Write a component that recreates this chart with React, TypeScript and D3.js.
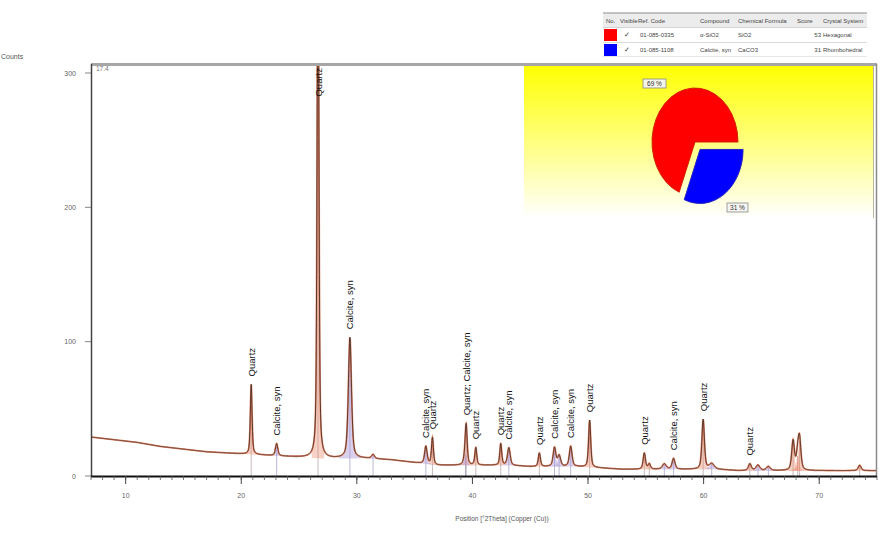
import React from 'react';
import * as d3 from 'd3';

const W = 892;
const H = 535;

// Background, counts at 2θ
const baseTheta = [7, 9, 11, 13, 15, 17, 19, 21, 23, 25, 27, 29, 31, 33, 35, 37, 39, 41, 43, 45, 47, 49, 51, 53, 55, 57, 59, 61, 63, 65, 67, 69, 71, 73, 75];
const baseCounts = [29, 27, 25, 22, 20, 18, 17, 16, 15, 14, 13, 13, 13, 12, 10, 8, 8, 8, 8, 7, 7, 7, 6, 5, 5, 5, 5, 5, 4, 4, 4, 4, 4, 4, 4];

// Quartz peaks: position (°2θ), height above background (counts), FWHM (°)
const quartzPos = [20.86, 26.64, 36.54, 39.46, 40.29, 42.45, 45.79, 50.14, 54.87, 55.3, 59.96, 64.0, 67.74, 68.14, 68.3, 73.5];
const quartzHeight = [52, 420, 20, 24, 13, 16, 10, 35, 12, 4, 37, 5, 22, 11, 22, 4];
const quartzWidth = [0.18, 0.18, 0.2, 0.2, 0.2, 0.2, 0.22, 0.22, 0.24, 0.24, 0.26, 0.3, 0.28, 0.28, 0.28, 0.3];

// Calcite peaks
const calcitePos = [23.06, 29.4, 31.4, 35.97, 39.4, 43.15, 47.1, 47.5, 48.5, 56.6, 57.4, 60.7, 64.7, 65.6];
const calciteHeight = [9, 90, 3, 13, 8, 13, 14, 8, 15, 4, 8, 4, 4, 3];
const calciteWidth = [0.25, 0.32, 0.3, 0.26, 0.3, 0.28, 0.28, 0.3, 0.28, 0.4, 0.3, 0.5, 0.4, 0.4];

// Peak labels
const labelPos = [20.86, 23.06, 26.64, 29.4, 35.97, 36.54, 39.46, 40.29, 42.45, 43.15, 45.79, 47.1, 48.5, 50.14, 54.87, 57.4, 59.96, 64.0];
const labelText = ['Quartz', 'Calcite, syn', 'Quartz', 'Calcite, syn', 'Calcite, syn', 'Quartz', 'Quartz; Calcite, syn', 'Quartz', 'Quartz', 'Calcite, syn', 'Quartz', 'Calcite, syn', 'Calcite, syn', 'Quartz', 'Quartz', 'Calcite, syn', 'Quartz', 'Quartz'];

// Axis ticks
const yTicks = [0, 100, 200, 300];
const xMajor = [10, 20, 30, 40, 50, 60, 70];

// Legend table
const legendHeaders = ['No.', 'Visible', 'Ref. Code', 'Compound', 'Chemical Formula', 'Score', 'Crystal System'];
const refCodes = ['01-085-0335', '01-085-1108'];
const compounds = ['α-SiO2', 'Calcite, syn'];
const formulas = ['SiO2', 'CaCO3'];
const scores = ['53', '31'];
const systems = ['Hexagonal', 'Rhombohedral'];
const phaseColors = ['#ff0000', '#0000ff'];

// Pie (semi-quantitative)
const pieLabels = ['69 %', '31 %'];
const pieValues = [69, 31];

const FONT = '"Liberation Sans", Arial, sans-serif';

const L = 91, R = 877, T = 64, B = 476;

const x = d3.scaleLinear().domain([7, 75]).range([L, R]);
const y = d3.scaleLinear().domain([0, 300]).range([B, 73]);
const bg = d3.scaleLinear().domain(baseTheta).range(baseCounts);

function pv(t: number, p: number, h: number, w: number) {
  const u = (t - p) / (w / 2);
  return h * (0.5 / (1 + u * u) + 0.5 * Math.exp(-Math.LN2 * u * u));
}

type Peak = { pos: number; h: number; w: number; phase: number };
const peaks: Peak[] = [
  ...quartzPos.map((p, i) => ({ pos: p, h: quartzHeight[i], w: quartzWidth[i], phase: 0 })),
  ...calcitePos.map((p, i) => ({ pos: p, h: calciteHeight[i], w: calciteWidth[i], phase: 1 })),
];

const grid = d3.range(7, 75.0001, 0.02);
const profile = (t: number) => bg(t) + peaks.reduce((s, pk) => s + pv(t, pk.pos, pk.h, pk.w), 0);
const profilePts = grid.map((t) => [t, profile(t)] as [number, number]);

export default function App() {
  const line = d3.line<[number, number]>().x((d) => x(d[0])).y((d) => y(d[1]));

  const fills = peaks.map((pk, i) => {
    const span = Math.max(0.5, pk.w * 3);
    const ts = d3.range(pk.pos - span, pk.pos + span, 0.01);
    const area = d3
      .area<number>()
      .x((t) => x(t))
      .y0((t) => y(bg(t)))
      .y1((t) => y(bg(t) + pv(t, pk.pos, pk.h, pk.w)));
    return (
      <path
        key={'f' + i}
        d={area(ts) || ''}
        fill={pk.phase === 0 ? 'rgba(235,140,110,0.4)' : 'rgba(170,150,215,0.45)'}
      />
    );
  });

  const sticks = peaks.map((pk, i) => (
    <line
      key={'s' + i}
      x1={x(pk.pos)}
      x2={x(pk.pos)}
      y1={B}
      y2={y(bg(pk.pos) + pk.h)}
      stroke={pk.phase === 0 ? 'rgba(150,120,120,0.65)' : 'rgba(120,120,175,0.65)'}
      strokeWidth={0.8}
    />
  ));

  const labels = labelPos.map((p, i) => {
    let top = 0;
    for (let t = p - 0.3; t <= p + 0.3; t += 0.02) top = Math.max(top, profile(t));
    const py = y(top);
    const xx = x(p) + 3.5;
    if (py < T + 5) {
      return (
        <text key={'l' + i} transform={`translate(${xx},${T + 4}) rotate(-90)`} textAnchor="end" fontSize={9.5} fontFamily={FONT} fill="#111">
          {labelText[i]}
        </text>
      );
    }
    return (
      <text key={'l' + i} transform={`translate(${xx},${py - 8}) rotate(-90)`} textAnchor="start" fontSize={9.5} fontFamily={FONT} fill="#111">
        {labelText[i]}
      </text>
    );
  });

  // pie
  const pie = d3.pie<number>().sort(null).startAngle(Math.PI / 2).endAngle(Math.PI / 2 + 2 * Math.PI);
  const order = [pieValues[1], pieValues[0]]; // blue first (from 3 o'clock clockwise)
  const arcs = pie(order);
  const arcGen = d3.arc<d3.PieArcDatum<number>>().innerRadius(0).outerRadius(1);
  const pcx = 695, pcy = 142, rx = 43, ry = 54;

  const minor = d3.range(7, 76, 1);

  const colX = [606, 620, 638, 700, 738, 797, 823];

  return (
    <svg width={W} height={H} style={{ position: 'absolute', left: 0, top: 0, background: '#fff' }} fontFamily={FONT}>
      <defs>
        <clipPath id="plot">
          <rect x={L} y={T} width={R - L} height={B - T} />
        </clipPath>
        <linearGradient id="yel" x1="0" x2="0" y1="0" y2="1">
          <stop offset="0" stopColor="#ffff00" />
          <stop offset="0.45" stopColor="#ffff70" />
          <stop offset="1" stopColor="#ffffff" />
        </linearGradient>
      </defs>

      {/* Counts label */}
      <text x={1} y={59} fontSize={7} fill="#555">Counts</text>

      {/* Pie panel */}
      <rect x={524} y={T} width={350} height={154} fill="url(#yel)" />
      <line x1={873.5} x2={873.5} y1={T} y2={218} stroke="#b8b8a0" strokeWidth={1} />

      <g clipPath="url(#plot)">
        {sticks}
        {fills}
        <path d={line(profilePts) || ''} fill="none" stroke="#e2683f" strokeWidth={1.8} opacity={0.75} />
        <path d={line(profilePts) || ''} fill="none" stroke="#4a3028" strokeWidth={0.9} />
        {labels}
      </g>

      {/* pie slices */}
      {arcs.map((a, i) => {
        const mid = (a.startAngle + a.endAngle) / 2;
        const off = i === 0 ? 9 : 0;
        const dx = Math.sin(mid) * off;
        const dy = -Math.cos(mid) * off;
        return (
          <path
            key={'p' + i}
            d={arcGen(a) || ''}
            transform={`translate(${pcx + dx},${pcy + dy}) scale(${rx},${ry})`}
            fill={i === 0 ? '#0000ff' : '#ff0000'}
            stroke={i === 0 ? '#2020c0' : '#d02000'}
            strokeWidth={1}
            vectorEffect="non-scaling-stroke"
          />
        );
      })}
      <rect x={643} y={79} width={23} height={9} fill="#f4f4e8" stroke="#888" strokeWidth={0.8} />
      <text x={654.5} y={86} textAnchor="middle" fontSize={6.5} fill="#333">{pieLabels[0]}</text>
      <rect x={727} y={203} width={21} height={9} fill="#f4f4f0" stroke="#888" strokeWidth={0.8} />
      <text x={737.5} y={210} textAnchor="middle" fontSize={6.5} fill="#333">{pieLabels[1]}</text>

      {/* frame */}
      <line x1={L} x2={R} y1={T + 0.5} y2={T + 0.5} stroke="#a6a6a6" strokeWidth={3} />
      <line x1={R - 0.5} x2={R - 0.5} y1={T} y2={B} stroke="#8a8a8a" strokeWidth={1.5} />
      <line x1={L + 0.5} x2={L + 0.5} y1={T} y2={B} stroke="#444" strokeWidth={1.5} />
      <line x1={L} x2={R} y1={B + 0.5} y2={B + 0.5} stroke="#111" strokeWidth={2} />

      <text x={96} y={71} fontSize={6.5} fill="#777">17.4</text>

      {/* y axis */}
      {yTicks.map((v) => (
        <g key={'y' + v}>
          <line x1={85} x2={L} y1={y(v)} y2={y(v)} stroke="#666" strokeWidth={0.8} />
          <text x={76} y={y(v) + 2.5} textAnchor="end" fontSize={7} fill="#666">{v}</text>
        </g>
      ))}

      {/* x axis */}
      {minor.map((v) => (
        <line key={'m' + v} x1={x(v)} x2={x(v)} y1={B} y2={B + 4} stroke="#555" strokeWidth={0.8} />
      ))}
      {xMajor.map((v) => (
        <g key={'x' + v}>
          <line x1={x(v)} x2={x(v)} y1={B} y2={B + 8} stroke="#444" strokeWidth={1} />
          <text x={x(v)} y={498} textAnchor="middle" fontSize={7} fill="#666">{v}</text>
        </g>
      ))}
      <text x={502} y={521} textAnchor="middle" fontSize={6.5} fill="#555">Position [°2Theta] (Copper (Cu))</text>

      {/* legend table */}
      <rect x={603} y={13} width={264} height={14} fill="#ececec" />
      <line x1={603} x2={867} y1={13} y2={13} stroke="#b0b0b0" strokeWidth={1.5} />
      <line x1={603} x2={867} y1={27.5} y2={27.5} stroke="#c8c8c8" strokeWidth={0.8} />
      <line x1={603} x2={867} y1={42.5} y2={42.5} stroke="#d0d0d0" strokeWidth={0.8} />
      <line x1={603} x2={867} y1={56.5} y2={56.5} stroke="#e0e0e0" strokeWidth={0.8} />
      {legendHeaders.map((h, i) => (
        <text key={'h' + i} x={colX[i]} y={23} fontSize={6} fill="#444">{h}</text>
      ))}
      {refCodes.map((rc, r) => {
        const ry0 = 28 + r * 15;
        return (
          <g key={'r' + r}>
            <rect x={604} y={ry0 + 1} width={13} height={12} fill={phaseColors[r]} />
            <text x={624} y={ry0 + 9} fontSize={6.5} fill="#333">✓</text>
            <text x={640} y={ry0 + 9} fontSize={6} fill="#444">{rc}</text>
            <text x={700} y={ry0 + 9} fontSize={6} fill="#444">{compounds[r]}</text>
            <text x={738} y={ry0 + 9} fontSize={6} fill="#444">{formulas[r]}</text>
            <text x={821} y={ry0 + 9} textAnchor="end" fontSize={6} fill="#444">{scores[r]}</text>
            <text x={823} y={ry0 + 9} fontSize={6} fill="#444">{systems[r]}</text>
          </g>
        );
      })}
    </svg>
  );
}
